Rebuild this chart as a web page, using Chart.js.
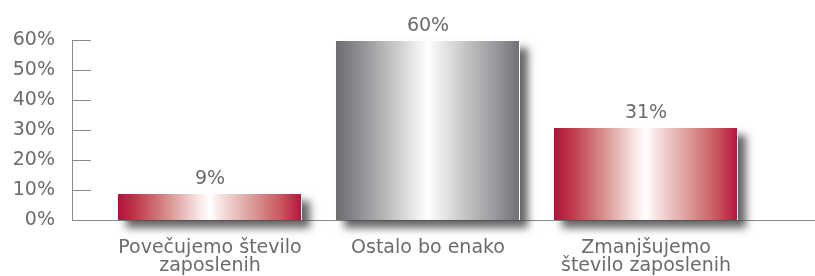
<!DOCTYPE html>
<html>
<head>
<meta charset="utf-8">
<script src="https://cdn.jsdelivr.net/npm/chart.js@4.4.0/dist/chart.umd.min.js"></script>
<style>
  html, body { margin: 0; padding: 0; background: #fff; }
  #wrap { width: 815px; height: 276px; }
</style>
</head>
<body>
<div id="wrap"><canvas id="chart"></canvas></div>
<script>
const categories = [["Povečujemo število", "zaposlenih"], "Ostalo bo enako", ["Zmanjšujemo", "število zaposlenih"]];
const shares = [9, 60, 31];
const barTones = ["red", "gray", "red"];
const yTicks = [0, 10, 20, 30, 40, 50, 60];

const textColor = "#6b6b6b";
const axisColor = "#8a8a8a";
const fontFamily = "'DejaVu Sans', Verdana, sans-serif";
const font = { family: fontFamily, size: 19, lineHeight: 0.95 };
const AXIS_X = 72;      // where the drawn y axis line sits
const TICK_LEN = 19;    // tick marks point into the plot

// horizontal "cylinder" shading, white in the middle
const gradientStops = {
  red: [[0, "#b3103a"], [0.1, "#bf3a4c"], [0.28, "#d99593"], [0.45, "#f9ecea"], [0.5, "#ffffff"], [0.56, "#f6e1df"], [0.72, "#dc9f9d"], [0.88, "#c9595f"], [1, "#b5133d"]],
  gray: [[0, "#6c6c70"], [0.12, "#8c8c90"], [0.3, "#c2c2c4"], [0.46, "#f4f4f4"], [0.5, "#ffffff"], [0.56, "#ededee"], [0.72, "#c0c0c2"], [0.88, "#959599"], [1, "#6f6f73"]]
};

function barFill(context) {
  const chart = context.chart;
  const xs = chart.scales.x;
  if (!xs || !chart.chartArea) return "#aaa";
  const center = xs.getPixelForValue(context.dataIndex);
  const half = xs.width / categories.length * context.dataset.barPercentage / 2;
  const g = chart.ctx.createLinearGradient(center - half, 0, center + half, 0);
  gradientStops[barTones[context.dataIndex]].forEach(([p, c]) => g.addColorStop(p, c));
  return g;
}

// axis lines + inward ticks, then soft shadows under each bar
const axesAndShadow = {
  id: "axesAndShadow",
  beforeDatasetsDraw(chart) {
    const c = chart.ctx;
    const ys = chart.scales.y;
    const y0 = Math.round(ys.getPixelForValue(0)) + 0.5;
    c.save();
    c.strokeStyle = axisColor;
    c.lineWidth = 1;
    c.beginPath();
    c.moveTo(AXIS_X + 0.5, Math.round(ys.getPixelForValue(yTicks[yTicks.length - 1])) + 0.5);
    c.lineTo(AXIS_X + 0.5, y0);
    c.lineTo(chart.width, y0);
    yTicks.forEach(v => {
      const py = Math.round(ys.getPixelForValue(v)) + 0.5;
      c.moveTo(AXIS_X, py);
      c.lineTo(AXIS_X + TICK_LEN, py);
    });
    c.stroke();

    c.shadowColor = "rgba(75,75,78,0.85)";
    c.shadowBlur = 8;
    c.shadowOffsetX = 8;
    c.shadowOffsetY = 8;
    c.fillStyle = "#888";
    chart.getDatasetMeta(0).data.forEach(bar => {
      c.fillRect(bar.x - bar.width / 2, bar.y, bar.width, bar.base - bar.y);
    });
    c.restore();
  }
};

// value labels above bars
const valueLabels = {
  id: "valueLabels",
  afterDatasetsDraw(chart) {
    const c = chart.ctx;
    c.save();
    c.font = "19px " + fontFamily;
    c.fillStyle = textColor;
    c.textAlign = "center";
    c.textBaseline = "alphabetic";
    chart.getDatasetMeta(0).data.forEach((bar, i) => c.fillText(shares[i] + "%", bar.x, bar.y - 9));
    c.restore();
  }
};

new Chart(document.getElementById("chart"), {
  type: "bar",
  data: {
    labels: categories,
    datasets: [{
      data: shares,
      backgroundColor: barFill,
      borderColor: "#ffffff",
      borderWidth: { top: 1, right: 1, left: 0, bottom: 0 },
      categoryPercentage: 1,
      barPercentage: 0.844
    }]
  },
  options: {
    responsive: true,
    maintainAspectRatio: false,
    animation: false,
    layout: { padding: { top: 40, right: 60, left: 0, bottom: 0 } },
    plugins: { legend: { display: false }, tooltip: { enabled: false } },
    scales: {
      x: {
        ticks: { font, color: textColor, padding: 19, maxRotation: 0, autoSkip: false },
        grid: { display: false, drawTicks: false },
        border: { display: false },
        afterFit: s => { s.height = 56; s.paddingLeft = 0; s.paddingRight = 0; }
      },
      y: {
        min: 0,
        max: 60,
        afterBuildTicks: s => { s.ticks = yTicks.map(v => ({ value: v })); },
        ticks: { callback: v => v + "%", font, color: textColor, padding: 46 },
        grid: { display: false, drawTicks: false },
        border: { display: false },
        afterFit: s => { s.width = 101; s.paddingTop = 0; s.paddingBottom = 0; }
      }
    }
  },
  plugins: [axesAndShadow, valueLabels]
});
</script>
</body>
</html>
